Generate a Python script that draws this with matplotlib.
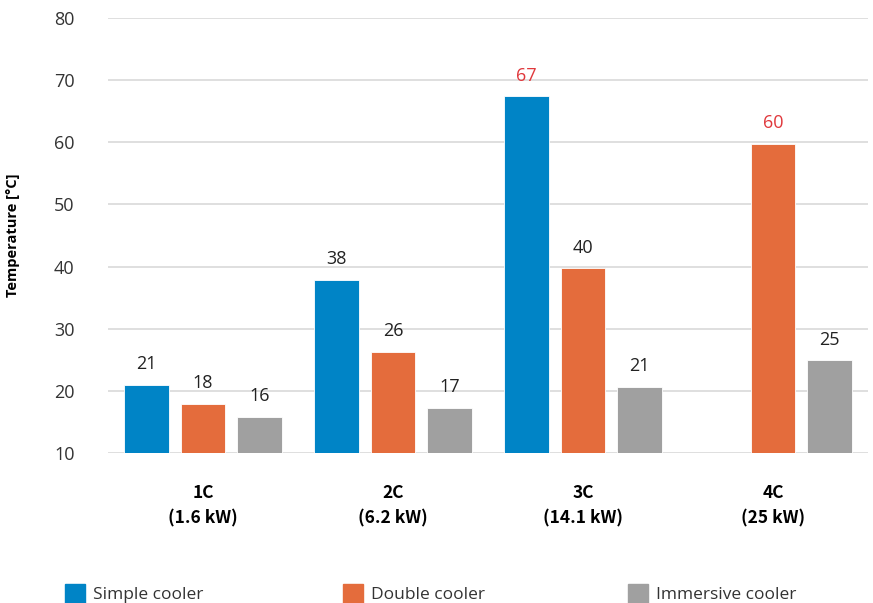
import numpy as np
import matplotlib
matplotlib.use("Agg")
import matplotlib.pyplot as plt
from matplotlib.patches import Rectangle

categories = ["1C\n(1.6 kW)", "2C\n(6.2 kW)", "3C\n(14.1 kW)", "4C\n(25 kW)"]
simple_cooler = [20.9, 37.8, 67.4, np.nan]
double_cooler = [17.9, 26.3, 39.7, 59.8]
immersive_cooler = [15.8, 17.3, 20.6, 24.9]
series_names = ["Simple cooler", "Double cooler", "Immersive cooler"]
highlight = {(0, 2), (1, 3)}  # (series, category) labels shown in red

colors = ["#0084C6", "#E46C3C", "#A0A0A0"]
red = "#E0383C"
font = "Open Sans"
bold_font = "Noto Sans CJK JP"

fig = plt.figure(figsize=(8.73, 6.03), dpi=100)
ax = fig.add_axes([0.1237, 0.2488, 0.8706, 0.7213])

x = np.arange(len(categories))
width = 0.235
offsets = [-0.297, 0.0, 0.297]
series = [simple_cooler, double_cooler, immersive_cooler]

for si, (vals, off, c) in enumerate(zip(series, offsets, colors)):
    vals = np.array(vals, dtype=float)
    ax.bar(x + off, vals - 10, width, bottom=10, color=c, edgecolor="white",
           linewidth=0.6, zorder=3)
    for ci, v in enumerate(vals):
        if np.isnan(v):
            continue
        ax.annotate(f"{v:.0f}", (x[ci] + off, v), xytext=(0, 8.5),
                    textcoords="offset points", ha="center", va="bottom",
                    fontsize=13, family=font,
                    color=red if (si, ci) in highlight else "#222222")

ax.set_xlim(-0.5, 3.5)
ax.set_ylim(10, 80)
ax.set_yticks(range(10, 81, 10))
ax.grid(axis="y", color="#D9D9D9", linewidth=1.2, zorder=0)
for s in ["left", "right", "top", "bottom"]:
    ax.spines[s].set_visible(False)
ax.tick_params(axis="y", length=0, pad=24, labelsize=13)
for t in ax.get_yticklabels():
    t.set_family(font)
    t.set_color("#333333")
ax.set_xticks(x)
ax.set_xticklabels(categories, fontsize=12.5, fontweight="bold",
                   family=bold_font, linespacing=1.6)
ax.tick_params(axis="x", length=0, pad=22)
ax.set_ylabel("Temperature [°C]", fontsize=10.5, fontweight="bold",
              family=font)
ax.yaxis.set_label_coords(-0.116, 0.5)

# legend along the bottom edge
leg_x = [65, 343, 628]
W, H = 873, 603
for lx, name, c in zip(leg_x, series_names, colors):
    fig.patches.append(Rectangle((lx / W, -2 / H), 20 / W, 21 / H,
                                 transform=fig.transFigure, color=c))
    fig.text((lx + 28) / W, 8 / H, name, fontsize=12.5, family=font,
             va="center", ha="left", color="#333333")

fig.savefig("out.png", dpi=100)
